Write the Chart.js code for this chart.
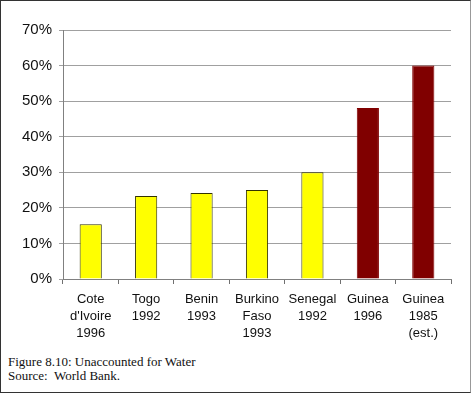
<!DOCTYPE html>
<html>
<head>
<meta charset="utf-8">
<script src="https://cdn.jsdelivr.net/npm/chart.js@4.4.0/dist/chart.umd.min.js"></script>
<style>
  html, body { margin: 0; padding: 0; background: #fff; }
  #frame {
    position: absolute; left: 0; top: 0;
    width: 469px; height: 391px;
    border: 1px solid #333; border-right-color: #999;
  }
  #wrap { position: absolute; left: 0; top: 0; width: 471px; height: 345px; }
  #caption {
    position: absolute; left: 8px; top: 355px;
    font-family: "Liberation Serif", "Times New Roman", serif;
    font-size: 13px; line-height: 14px; color: #111;
  }
</style>
</head>
<body>
<div id="frame"></div>
<div id="wrap"><canvas id="waterChart"></canvas></div>
<div id="caption">Figure 8.10: Unaccounted for Water<br>Source:&nbsp; World Bank.</div>
<script>
const categories = [
  ['Cote', "d'Ivoire", '1996'],
  ['Togo', '1992'],
  ['Benin', '1993'],
  ['Burkino', 'Faso', '1993'],
  ['Senegal', '1992'],
  ['Guinea', '1996'],
  ['Guinea', '1985', '(est.)']
];
const unaccounted = [15.4, 23.3, 24.2, 25, 30, 48.1, 60];
const barColors = ['#ffff00', '#ffff00', '#ffff00', '#ffff00', '#ffff00', '#800000', '#800000'];
const edgeColors = ['#333300', '#333300', '#333300', '#333300', '#333300', '#800000', '#800000'];

const ctx = document.getElementById('waterChart').getContext('2d');
const waterChart = new Chart(ctx, {
  type: 'bar',
  data: {
    labels: categories,
    datasets: [{
      data: unaccounted,
      backgroundColor: barColors,
      borderColor: edgeColors,
      borderWidth: 1,
      barPercentage: 0.4,
      categoryPercentage: 1
    }]
  },
  options: {
    responsive: true,
    maintainAspectRatio: false,
    animation: false,
    layout: { padding: { left: 0, right: 20, top: 30, bottom: 0 } },
    plugins: { legend: { display: false }, tooltip: { enabled: false } },
    scales: {
      x: {
        grid: { drawOnChartArea: false, tickLength: 5, color: '#707070' },
        border: { color: '#808080' },
        ticks: {
          color: '#111',
          padding: 7,
          maxRotation: 0,
          autoSkip: false,
          font: { family: '"Liberation Sans Narrow", "Arial Narrow", Arial, sans-serif', size: 13, lineHeight: 1.3 }
        },
        afterFit: (scale) => { scale.height = 66; }
      },
      y: {
        min: 0,
        max: 70,
        grid: { color: '#a0a0a0', tickLength: 4 },
        border: { color: '#808080' },
        ticks: {
          stepSize: 10,
          color: '#111',
          padding: 7,
          font: { family: 'Arial, "Liberation Sans", sans-serif', size: 15 },
          callback: (v) => v + '%'
        },
        afterFit: (scale) => { scale.width = 63; }
      }
    }
  }
});
</script>
</body>
</html>
